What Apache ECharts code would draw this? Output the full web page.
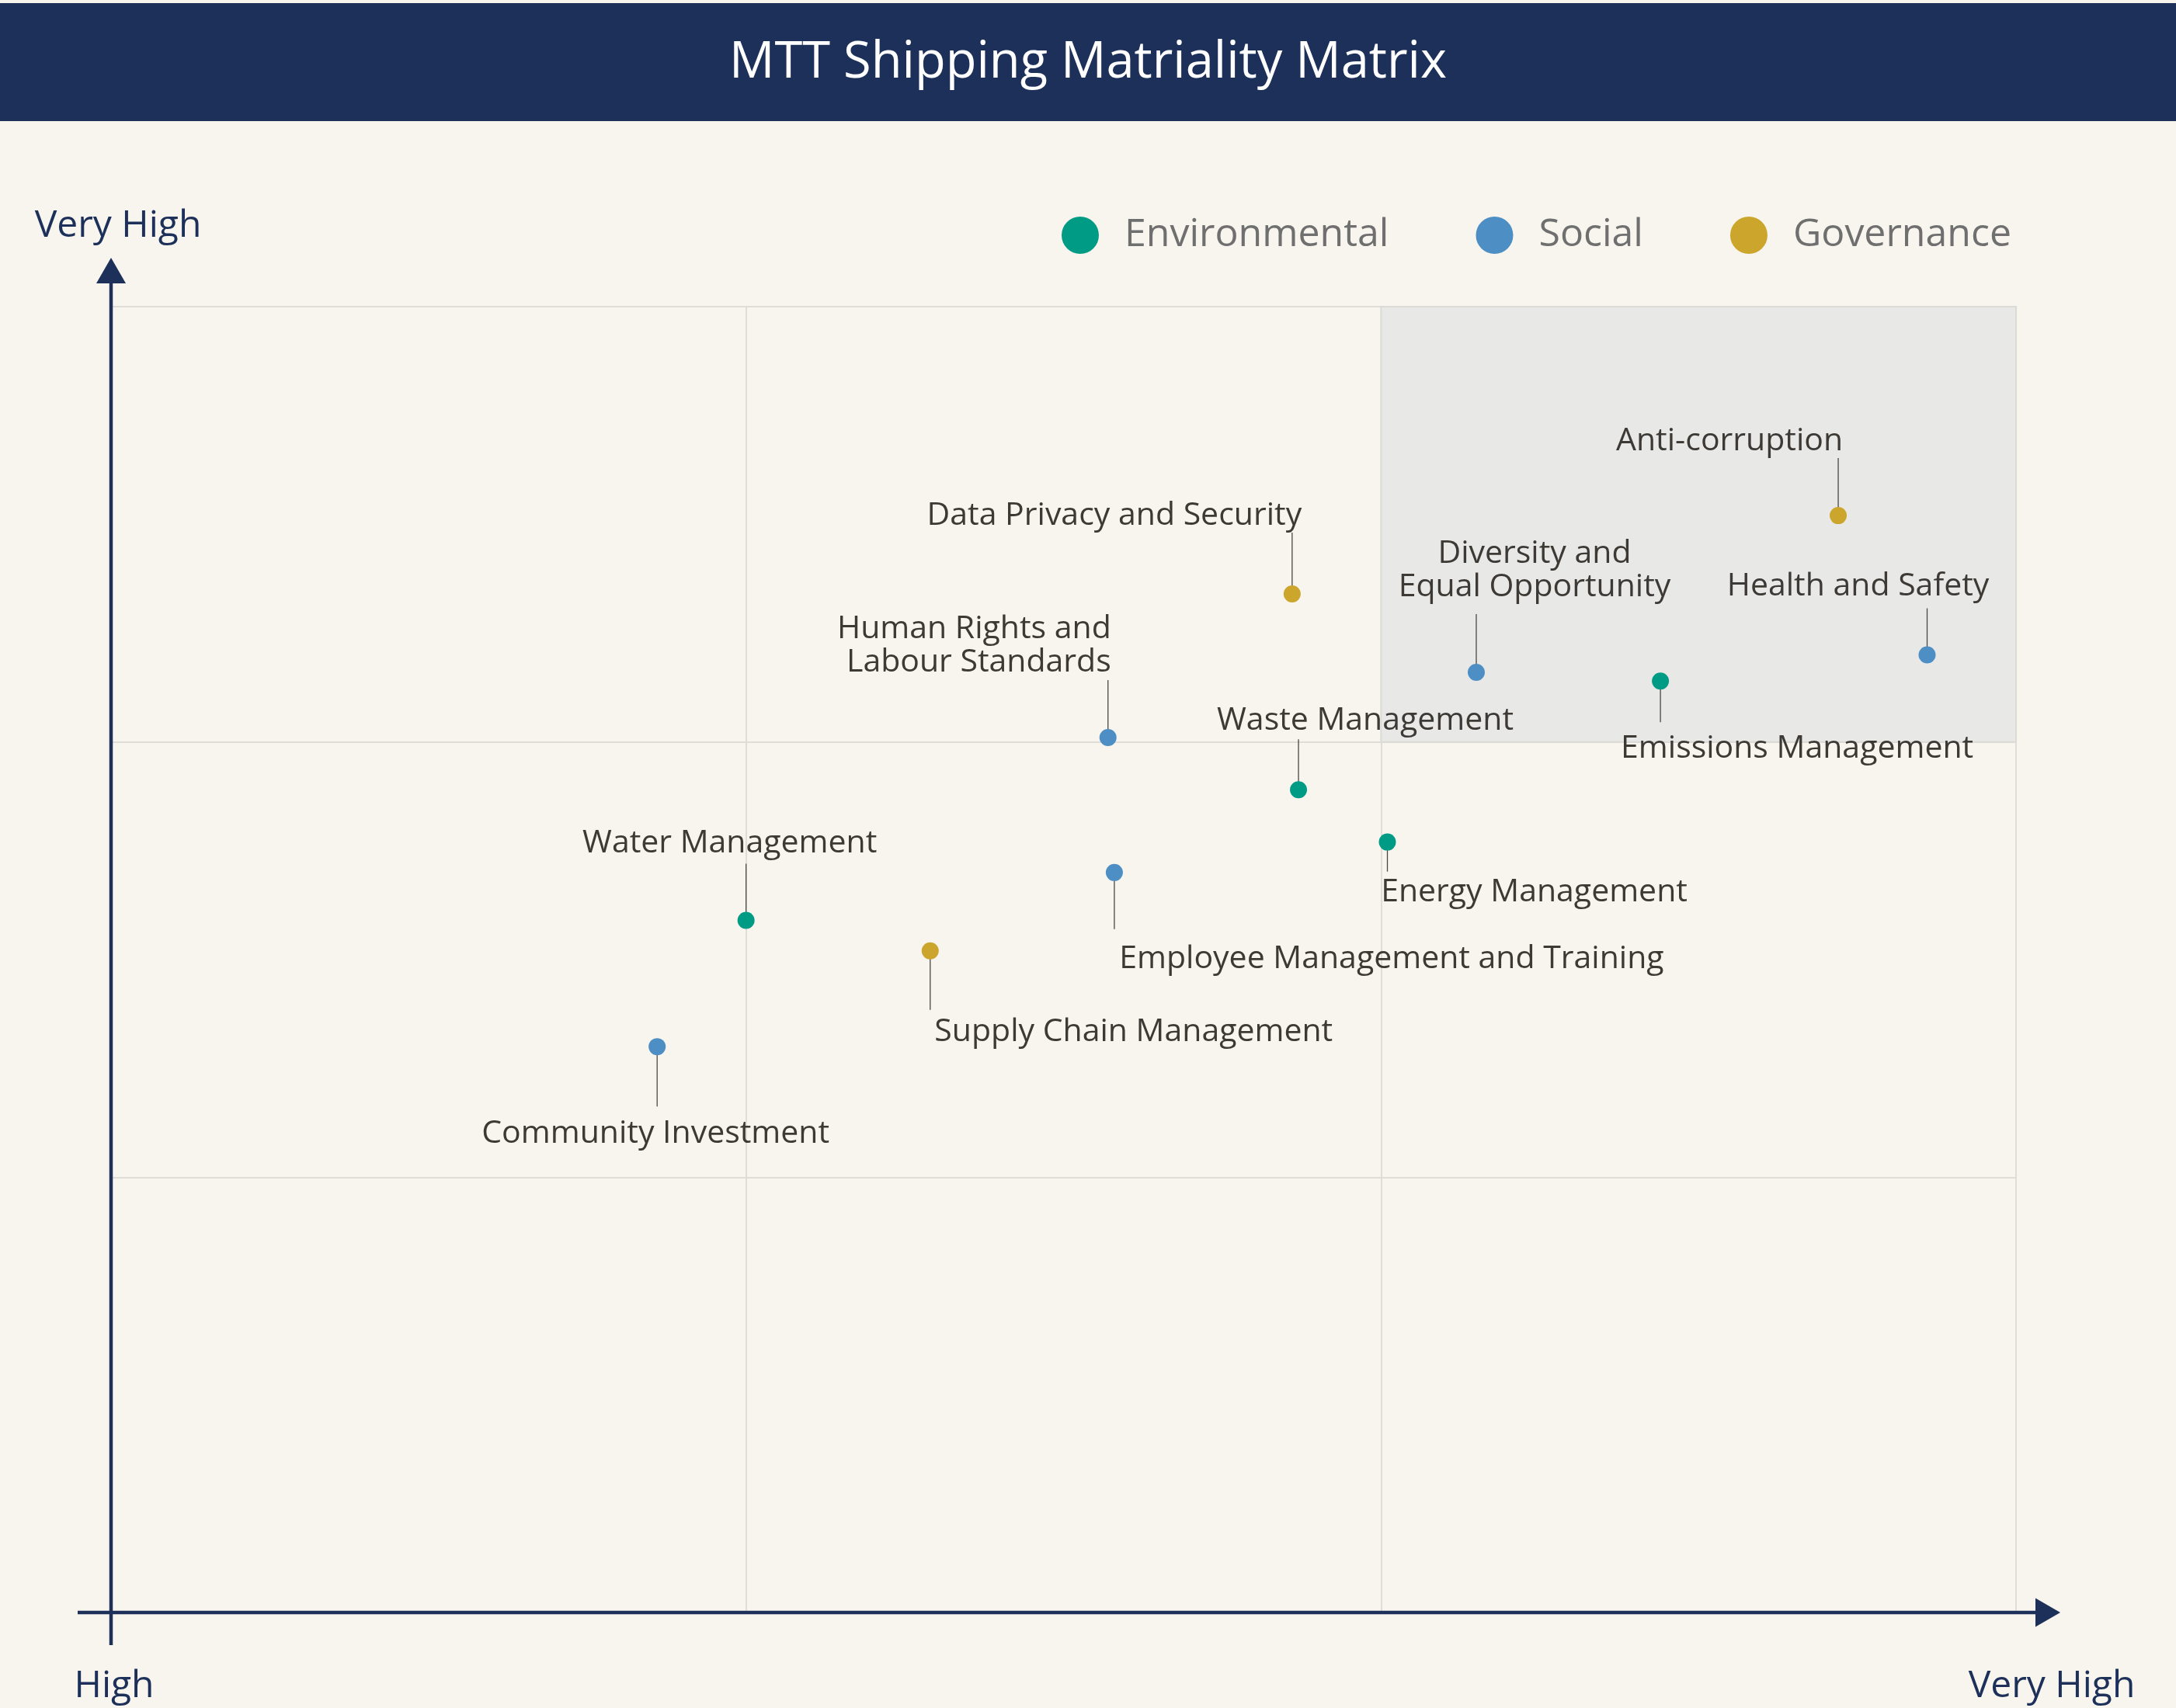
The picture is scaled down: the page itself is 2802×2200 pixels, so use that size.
<!DOCTYPE html>
<html>
<head>
<meta charset="utf-8">
<script src="https://cdn.jsdelivr.net/npm/echarts@6/dist/echarts.min.js"></script>
<style>
html,body{margin:0;padding:0;background:#f8f5ee;}
#chart{width:2802px;height:2200px;}
</style>
</head>
<body>
<div id="chart"></div>
<script>
// ---------- DATA ----------
const titleText = 'MTT Shipping Matriality Matrix';
const categories = ['Environmental', 'Social', 'Governance'];
const topics = [
  'Anti-corruption',
  'Health and Safety',
  'Diversity and\nEqual Opportunity',
  'Emissions Management',
  'Data Privacy and Security',
  'Human Rights and\nLabour Standards',
  'Waste Management',
  'Energy Management',
  'Employee Management and Training',
  'Water Management',
  'Supply Chain Management',
  'Community Investment'
];
const topicCategory = [
  'Governance', 'Social', 'Social', 'Environmental', 'Governance', 'Social',
  'Environmental', 'Environmental', 'Social', 'Environmental', 'Governance', 'Social'
];
// horizontal axis score (High .. Very High), 0..3
const xScores = [2.72, 2.86, 2.15, 2.44, 1.86, 1.57, 1.87, 2.01, 1.58, 1.00, 1.29, 0.86];
// vertical axis score (High .. Very High), 0..3
const yScores = [2.52, 2.20, 2.16, 2.14, 2.34, 2.01, 1.89, 1.77, 1.70, 1.59, 1.52, 1.30];
const xEndLabels = ['High', 'Very High'];
const yEndLabels = ['Very High'];
const focusQuadrant = { x: [2, 3], y: [2, 3] };

// ---------- LAYOUT / STYLE ----------
const FONT = '"Open Sans", sans-serif';
const NAVY = '#1c3059';
const BG = '#f8f5ee';
const colors = { Environmental: '#009b85', Social: '#4d8ec4', Governance: '#cca52d' };
// label placement per topic: leader line end (px, signed), text centre offset, alignment
const labelPlacement = [
  { line: -74, dx: -140, dy: -96, align: 'center' },
  { line: -60, dx: -89, dy: -88, align: 'center' },
  { line: -75, dx: 75, dy: -131, align: 'center' },
  { line: 53, dx: 176, dy: 87, align: 'center' },
  { line: -79, dx: -229, dy: -101, align: 'center' },
  { line: -74, dx: 4, dy: -118, align: 'right' },
  { line: -65, dx: 86, dy: -89, align: 'center' },
  { line: 38, dx: 189, dy: 65, align: 'center' },
  { line: 73, dx: 357, dy: 111, align: 'center' },
  { line: -73, dx: -21, dy: -99, align: 'center' },
  { line: 76, dx: 262, dy: 105, align: 'center' },
  { line: 77, dx: -2, dy: 112, align: 'center' }
];

const chart = echarts.init(document.getElementById('chart'), null, { renderer: 'canvas' });

const scatterSeries = categories.map(function (cat, ci) {
  const data = [];
  topics.forEach(function (t, i) {
    if (topicCategory[i] === cat) data.push({ value: [xScores[i], yScores[i]], name: t });
  });
  const s = {
    name: cat,
    type: 'scatter',
    symbol: 'circle',
    symbolSize: 22,
    z: 4,
    itemStyle: { color: colors[cat], opacity: 1 },
    data: data
  };
  if (ci === 0) {
    s.markArea = {
      silent: true,
      z: 1,
      itemStyle: { color: '#e8e9e7', borderColor: '#dcdad5', borderWidth: 2 },
      data: [[{ coord: [focusQuadrant.x[0], focusQuadrant.y[0]] }, { coord: [focusQuadrant.x[1], focusQuadrant.y[1]] }]]
    };
  }
  return s;
});

const labelSeries = {
  type: 'custom',
  name: 'labels',
  z: 3,
  clip: false,
  silent: true,
  data: topics.map(function (t, i) { return [xScores[i], yScores[i], i]; }),
  renderItem: function (params, api) {
    const i = api.value(2);
    const p = api.coord([api.value(0), api.value(1)]);
    const pl = labelPlacement[i];
    return {
      type: 'group',
      children: [
        {
          type: 'line',
          shape: { x1: p[0], y1: p[1], x2: p[0], y2: p[1] + pl.line },
          style: { stroke: '#4a4744', lineWidth: 1.3 }
        },
        {
          type: 'text',
          x: p[0] + pl.dx,
          y: p[1] + pl.dy,
          style: {
            text: topics[i],
            align: pl.align,
            verticalAlign: 'middle',
            fontFamily: FONT,
            fontSize: 41,
            lineHeight: 43,
            fill: '#3d3a35'
          }
        }
      ]
    };
  }
};

const option = {
  backgroundColor: BG,
  animation: false,
  title: {
    text: titleText,
    left: 'center',
    top: 49,
    padding: 0,
    textStyle: { color: '#ffffff', fontSize: 65, fontWeight: 'normal', fontFamily: FONT }
  },
  legend: {
    data: categories,
    right: 212,
    top: 278,
    padding: 0,
    itemWidth: 48,
    itemHeight: 48,
    itemGap: 112,
    icon: 'circle',
    textStyle: { color: '#6f6f6f', fontSize: 50, fontFamily: FONT, padding: [0, 0, 0, 28] }
  },
  grid: { left: 143, top: 395, width: 2453, height: 1682, containLabel: false },
  xAxis: {
    type: 'value', min: 0, max: 3, interval: 1,
    axisLine: { show: false }, axisTick: { show: false }, axisLabel: { show: false },
    splitLine: { show: true, lineStyle: { color: '#dfddd7', width: 2 } }
  },
  yAxis: {
    type: 'value', min: 0, max: 3, interval: 1,
    axisLine: { show: false }, axisTick: { show: false }, axisLabel: { show: false },
    splitLine: { show: true, lineStyle: { color: '#dfddd7', width: 2 } }
  },
  series: scatterSeries.concat([labelSeries])
};
chart.setOption(option);

// axes with arrows and end labels, positioned from the grid's own coordinate system
const p0 = chart.convertToPixel({ gridIndex: 0 }, [0, 0]);
const p1 = chart.convertToPixel({ gridIndex: 0 }, [3, 3]);
const axisTextStyle = { fontFamily: FONT, fontSize: 48, fill: NAVY, align: 'center', verticalAlign: 'middle' };
chart.setOption({
  graphic: [
    { type: 'rect', z: 0, shape: { x: 0, y: 4, width: 2802, height: 152 }, style: { fill: NAVY } },
    { type: 'line', z: 10, shape: { x1: p0[0] - 43, y1: p0[1], x2: p1[0] + 27, y2: p0[1] }, style: { stroke: NAVY, lineWidth: 4.5 } },
    { type: 'polygon', z: 10, shape: { points: [[p1[0] + 25, p0[1] - 18.5], [p1[0] + 57, p0[1]], [p1[0] + 25, p0[1] + 18.5]] }, style: { fill: NAVY } },
    { type: 'line', z: 10, shape: { x1: p0[0], y1: p0[1] + 42, x2: p0[0], y2: p1[1] - 32 }, style: { stroke: NAVY, lineWidth: 4.5 } },
    { type: 'polygon', z: 10, shape: { points: [[p0[0] - 19, p1[1] - 30], [p0[0], p1[1] - 63], [p0[0] + 19, p1[1] - 30]] }, style: { fill: NAVY } },
    { type: 'text', z: 10, x: p0[0] + 9, y: p1[1] - 104, style: Object.assign({ text: yEndLabels[0] }, axisTextStyle) },
    { type: 'text', z: 10, x: p0[0] + 4, y: p0[1] + 95, style: Object.assign({ text: xEndLabels[0] }, axisTextStyle) },
    { type: 'text', z: 10, x: p1[0] + 46, y: p0[1] + 95, style: Object.assign({ text: xEndLabels[1] }, axisTextStyle) }
  ]
});
</script>
</body>
</html>
